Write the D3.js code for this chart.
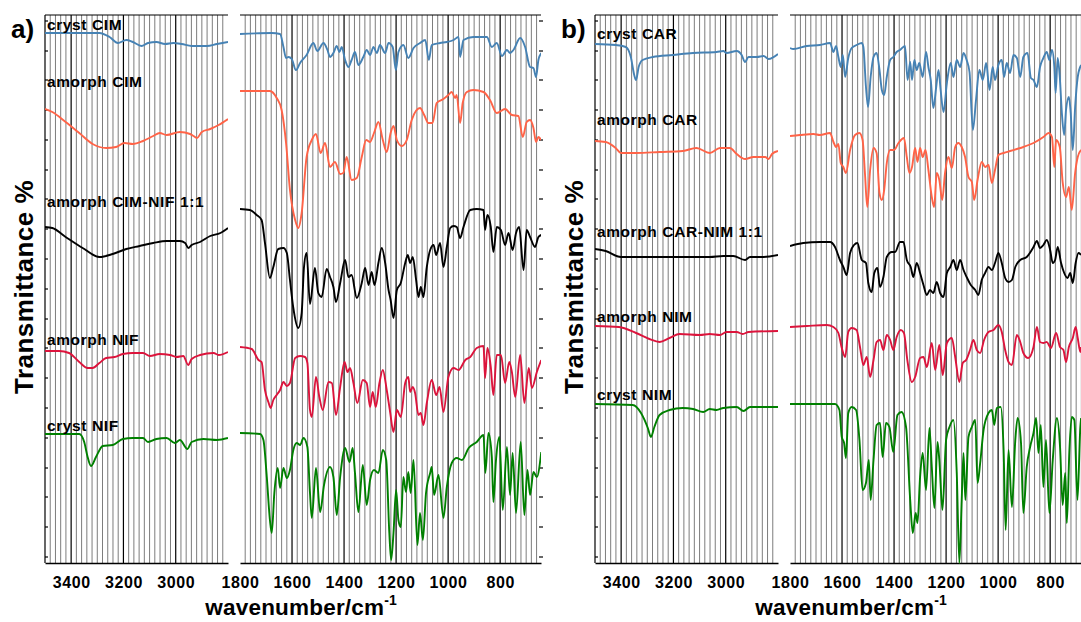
<!DOCTYPE html>
<html><head><meta charset="utf-8">
<script src="https://cdn.jsdelivr.net/npm/d3@7"></script>
<style>
body{margin:0;background:#fff}
svg{display:block}
text{font-family:"Liberation Sans",Arial,Helvetica,sans-serif;font-weight:bold;fill:#000}
</style>
</head><body>
<svg id="c" width="1081" height="622"></svg>
<script>
// ---------- tick labels / ticks ----------
const ticksHigh = [3400, 3200, 3000];
const ticksLow = [1800, 1600, 1400, 1200, 1000, 800];
const yTicks = [6,36,66,95,125,155,185,215,244,274,304,334,364,393,423,453,483,512,542];

// ---------- series names / colours ----------
const namesA = ["cryst CIM", "amorph CIM", "amorph CIM-NIF 1:1", "amorph NIF", "cryst NIF"];
const namesB = ["cryst CAR", "amorph CAR", "amorph CAR-NIM 1:1", "amorph NIM", "cryst NIM"];
const colors = ["#4682b4", "#ff6347", "#000000", "#dc143c", "#008000"];
const labelValsA = [533, 476, 356, 218, 132];
const labelValsB = [524, 438, 326, 241, 163];

// ---------- panel a, 3500-2800 ----------
const cimCrystL = [[3500,530],[3292,530],[3253,526],[3221,520],[3189,523],[3164,521],[3131,517],[3106,520],[3074,521],[3041,519],[3009,520],[2977,519],[2939,517],[2919,517],[2881,517],[2842,519],[2800,521]];
const cimAmL = [[3500,454],[3472,451],[3421,441],[3369,430],[3318,419],[3266,415],[3228,416],[3196,420],[3164,419],[3125,422],[3086,427],[3061,430],[3035,428],[2984,431],[2945,429],[2932,427],[2919,425],[2900,431],[2868,434],[2836,438],[2800,444]];
const mixAL = [[3500,336],[3472,335],[3421,326],[3356,315],[3292,306],[3241,309],[3189,314],[3138,317],[3086,320],[3035,322],[2984,322],[2964,320],[2952,315],[2939,318],[2907,321],[2868,327],[2829,330],[2800,335]];
const nifAmL = [[3500,212],[3446,212],[3408,210],[3369,201],[3337,195],[3318,195],[3292,200],[3266,205],[3234,206],[3202,209],[3164,210],[3125,210],[3099,207],[3061,209],[3022,208],[2997,206],[2971,207],[2952,198],[2939,204],[2907,208],[2855,210],[2836,208],[2800,211]];
const nifCrystL = [[3500,129],[3369,129],[3350,121],[3337,106],[3324,97],[3305,106],[3279,117],[3241,118],[3202,124],[3164,125],[3125,125],[3106,121],[3074,124],[3035,125],[3003,120],[2984,123],[2955,114],[2939,121],[2894,124],[2842,123],[2800,125]];

// ---------- panel a, 1800-643 ----------
const cimCrystR = [[1800,529],[1678,530],[1646,529],[1633,516],[1623,505],[1614,506],[1601,504],[1585,493],[1569,500],[1544,508],[1518,520],[1503,512],[1479,520],[1464,513],[1454,506],[1441,510],[1428,517],[1418,511],[1409,516],[1396,503],[1383,496],[1371,503],[1358,511],[1345,498],[1326,506],[1313,513],[1300,508],[1287,516],[1274,510],[1262,518],[1242,510],[1229,520],[1213,516],[1201,493],[1191,511],[1172,518],[1153,505],[1133,515],[1108,520],[1088,523],[1074,503],[1063,518],[1031,520],[1005,521],[979,523],[960,526],[954,506],[941,523],[903,526],[851,526],[832,516],[813,520],[793,507],[774,513],[762,510],[749,513],[723,525],[704,516],[685,496],[672,495],[662,486],[653,503],[642,510]];
const cimAmR = [[1800,472],[1685,472],[1659,465],[1640,453],[1623,420],[1608,373],[1588,343],[1576,335],[1563,350],[1544,406],[1524,423],[1508,429],[1490,410],[1473,420],[1454,396],[1435,401],[1415,389],[1403,390],[1390,406],[1371,383],[1351,385],[1332,406],[1315,423],[1300,421],[1285,430],[1268,441],[1251,423],[1236,411],[1221,430],[1210,437],[1197,423],[1178,417],[1159,423],[1140,443],[1108,455],[1092,448],[1076,440],[1060,440],[1044,460],[1018,464],[999,468],[986,471],[973,465],[967,468],[954,440],[944,460],[928,471],[903,473],[864,471],[839,463],[813,450],[781,454],[755,448],[730,447],[713,426],[698,441],[685,443],[672,435],[662,421],[653,426],[642,423]];
const mixAR = [[1800,354],[1762,353],[1736,348],[1717,343],[1704,320],[1685,285],[1672,296],[1653,314],[1633,315],[1620,310],[1608,283],[1595,255],[1576,235],[1563,250],[1554,296],[1544,310],[1531,259],[1512,295],[1499,270],[1486,266],[1467,294],[1454,286],[1441,276],[1431,261],[1415,280],[1396,303],[1383,286],[1371,288],[1351,265],[1332,280],[1319,295],[1306,278],[1294,291],[1283,278],[1268,300],[1255,315],[1242,300],[1229,273],[1221,263],[1210,245],[1197,273],[1182,280],[1165,300],[1155,308],[1146,300],[1136,306],[1123,283],[1114,266],[1105,276],[1095,266],[1082,296],[1069,313],[1056,318],[1046,308],[1031,320],[1018,296],[1005,316],[992,335],[979,337],[967,336],[954,325],[941,336],[915,353],[890,354],[864,353],[858,333],[849,348],[836,336],[826,311],[813,336],[797,333],[781,318],[768,330],[752,313],[739,330],[727,336],[710,293],[698,333],[685,326],[666,316],[653,326],[642,328]];
const nifAmR = [[1800,216],[1755,214],[1729,203],[1717,201],[1704,173],[1691,161],[1682,155],[1672,163],[1659,168],[1646,173],[1633,181],[1620,177],[1608,180],[1588,205],[1569,207],[1550,206],[1541,200],[1531,153],[1524,146],[1508,186],[1495,166],[1482,153],[1460,181],[1447,180],[1431,148],[1415,176],[1398,201],[1387,191],[1377,195],[1364,180],[1349,160],[1328,183],[1313,180],[1300,156],[1290,171],[1278,156],[1264,180],[1251,193],[1236,173],[1223,151],[1210,131],[1197,153],[1182,146],[1165,180],[1153,186],[1146,171],[1136,176],[1127,170],[1114,148],[1105,150],[1095,138],[1082,160],[1063,183],[1046,168],[1033,176],[1018,151],[999,186],[979,195],[960,193],[934,203],[915,206],[890,215],[864,217],[858,185],[849,215],[836,196],[826,168],[813,208],[797,208],[781,180],[765,201],[755,191],[742,166],[723,208],[707,160],[690,195],[678,175],[659,191],[642,203]];
const nifCrystR = [[1800,130],[1723,129],[1710,123],[1697,86],[1685,43],[1678,30],[1668,70],[1655,95],[1646,75],[1633,95],[1620,85],[1608,93],[1595,113],[1582,120],[1569,118],[1556,125],[1541,116],[1531,70],[1524,45],[1508,95],[1492,51],[1477,78],[1454,96],[1441,86],[1428,48],[1415,86],[1396,115],[1379,101],[1367,115],[1358,90],[1345,51],[1328,98],[1313,58],[1300,83],[1285,93],[1268,90],[1251,113],[1238,103],[1226,30],[1219,3],[1210,30],[1200,73],[1191,43],[1182,36],[1172,86],[1162,71],[1153,91],[1144,70],[1133,103],[1118,18],[1108,50],[1097,23],[1085,70],[1069,90],[1063,96],[1054,68],[1037,88],[1018,45],[1005,76],[986,100],[967,105],[947,103],[921,115],[890,121],[864,128],[857,90],[845,130],[832,106],[826,61],[816,103],[803,126],[790,53],[774,116],[762,68],[752,110],[739,50],[721,121],[707,48],[695,93],[685,68],[672,91],[659,86],[642,111]];

// ---------- panel b, 3500-2800 ----------
const carCrystL = [[3500,519],[3421,518],[3382,516],[3363,506],[3350,488],[3343,483],[3333,496],[3318,503],[3279,506],[3202,508],[3125,510],[3035,511],[3009,512],[2997,510],[2958,512],[2939,508],[2926,501],[2913,506],[2881,506],[2855,507],[2836,504],[2800,509]];
const carAmL = [[3500,422],[3459,421],[3421,415],[3401,410],[3343,410],[3253,411],[3164,412],[3112,415],[3061,410],[3022,415],[2984,415],[2958,409],[2926,404],[2894,406],[2849,406],[2836,404],[2823,409],[2800,412]];
const mixBL = [[3500,314],[3459,312],[3401,306],[3292,306],[3164,306],[3061,306],[3009,307],[2971,307],[2926,303],[2907,306],[2855,306],[2800,308]];
const nimAmL = [[3500,237],[3408,236],[3343,230],[3292,224],[3253,221],[3215,225],[3176,229],[3099,228],[3061,229],[3022,228],[2997,231],[2958,231],[2935,229],[2913,231],[2800,232]];
const nimCrystL = [[3500,159],[3356,158],[3324,150],[3298,135],[3286,126],[3273,136],[3253,148],[3215,153],[3164,155],[3125,154],[3086,151],[3061,154],[3035,153],[3009,155],[2958,156],[2932,152],[2907,156],[2800,156]];

// ---------- panel b, 1800-681 ----------
const carCrystR = [[1800,515],[1787,514],[1736,517],[1685,518],[1646,520],[1633,511],[1623,517],[1614,506],[1605,496],[1597,508],[1588,486],[1576,505],[1563,515],[1544,518],[1524,520],[1518,516],[1508,476],[1500,456],[1490,486],[1479,506],[1467,510],[1456,493],[1447,473],[1438,468],[1428,486],[1415,503],[1403,506],[1390,511],[1377,513],[1358,517],[1348,483],[1338,501],[1331,483],[1322,503],[1313,493],[1303,500],[1290,486],[1277,511],[1268,496],[1259,483],[1249,455],[1238,476],[1229,493],[1221,473],[1210,451],[1197,480],[1182,500],[1172,486],[1159,503],[1146,496],[1133,510],[1121,503],[1110,491],[1097,433],[1085,463],[1072,493],[1059,483],[1046,500],[1033,473],[1021,496],[1012,483],[999,498],[986,503],[977,486],[967,500],[954,490],[941,508],[928,505],[915,486],[903,506],[887,510],[874,485],[864,483],[851,476],[839,496],[826,505],[813,511],[803,503],[793,513],[784,496],[779,470],[771,505],[763,486],[755,450],[746,428],[739,453],[728,466],[721,450],[713,413],[704,456],[694,486],[681,498]];
const carAmR = [[1800,427],[1762,428],[1710,429],[1685,428],[1646,430],[1633,421],[1623,416],[1614,419],[1605,400],[1595,396],[1585,390],[1569,413],[1550,428],[1533,430],[1521,423],[1512,390],[1503,356],[1492,393],[1479,415],[1467,410],[1456,370],[1447,363],[1438,373],[1428,400],[1415,413],[1400,413],[1383,420],[1362,425],[1351,406],[1341,390],[1331,396],[1319,415],[1310,401],[1300,415],[1290,406],[1279,413],[1268,393],[1255,366],[1246,356],[1236,390],[1226,383],[1215,363],[1204,390],[1191,406],[1178,395],[1165,416],[1153,420],[1140,416],[1127,406],[1114,386],[1101,381],[1092,363],[1079,383],[1063,401],[1050,396],[1037,398],[1024,380],[1012,393],[999,408],[979,410],[954,412],[928,414],[903,416],[864,420],[826,426],[806,430],[793,426],[784,396],[777,423],[763,416],[752,381],[739,366],[728,376],[717,353],[704,390],[694,406],[681,413]];
const mixBR = [[1800,317],[1749,320],[1685,321],[1646,321],[1627,316],[1608,303],[1595,296],[1582,288],[1569,310],[1554,318],[1541,320],[1524,303],[1508,300],[1499,280],[1486,271],[1476,290],[1464,295],[1454,276],[1441,286],[1428,306],[1409,311],[1396,311],[1377,321],[1364,321],[1351,303],[1336,296],[1326,286],[1313,300],[1300,290],[1287,278],[1274,268],[1262,273],[1249,270],[1236,281],[1223,270],[1210,266],[1197,290],[1184,296],[1172,303],[1159,293],[1146,303],[1133,293],[1121,286],[1105,278],[1088,273],[1076,268],[1063,283],[1050,290],[1037,296],[1024,293],[1012,300],[999,310],[986,300],[973,285],[960,281],[947,283],[934,296],[915,303],[890,306],[864,316],[851,322],[839,315],[826,318],[813,323],[800,313],[790,300],[781,303],[771,316],[758,300],[746,290],[733,285],[723,290],[713,280],[702,300],[691,310],[681,308]];
const nimAmR = [[1800,236],[1736,237],[1659,238],[1633,236],[1614,230],[1601,215],[1588,206],[1576,231],[1563,235],[1544,233],[1531,216],[1518,198],[1505,206],[1492,186],[1479,203],[1467,221],[1454,223],[1441,213],[1428,228],[1415,223],[1403,213],[1390,226],[1374,233],[1362,230],[1349,203],[1332,181],[1319,186],[1300,205],[1287,206],[1274,196],[1255,220],[1242,193],[1226,218],[1213,188],[1197,220],[1178,225],[1165,206],[1149,181],[1136,200],[1123,203],[1108,213],[1095,223],[1082,213],[1069,210],[1054,223],[1037,231],[1018,233],[999,238],[986,231],[973,213],[960,201],[947,198],[928,228],[915,221],[903,210],[884,205],[864,216],[851,236],[839,221],[826,220],[813,221],[797,215],[777,230],[762,216],[749,213],[739,201],[728,216],[713,225],[702,236],[694,225],[684,211],[681,216]];
const nimCrystR = [[1800,159],[1710,159],[1627,159],[1610,153],[1601,126],[1592,120],[1585,105],[1576,150],[1563,156],[1546,153],[1533,123],[1521,73],[1508,80],[1497,103],[1490,63],[1479,103],[1467,138],[1454,140],[1444,106],[1431,140],[1418,136],[1403,111],[1387,148],[1371,151],[1354,136],[1338,63],[1328,30],[1317,50],[1310,40],[1300,86],[1290,110],[1277,73],[1264,135],[1255,96],[1245,55],[1233,121],[1226,103],[1214,53],[1200,123],[1187,136],[1172,143],[1159,90],[1149,0],[1140,63],[1133,110],[1126,63],[1114,126],[1101,136],[1088,143],[1079,80],[1069,100],[1056,133],[1037,150],[1024,153],[1015,138],[1005,155],[990,156],[979,113],[971,33],[960,113],[947,56],[934,123],[925,145],[912,120],[903,50],[890,96],[877,116],[864,130],[854,145],[845,110],[836,138],[826,76],[816,123],[803,50],[790,103],[774,145],[762,116],[752,58],[742,90],[736,40],[726,113],[717,146],[707,143],[695,63],[684,136],[681,145]];

const seriesAL = [cimCrystL, cimAmL, mixAL, nifAmL, nifCrystL];
const seriesAR = [cimCrystR, cimAmR, mixAR, nifAmR, nifCrystR];
const seriesBL = [carCrystL, carAmL, mixBL, nimAmL, nimCrystL];
const seriesBR = [carCrystR, carAmR, mixBR, nimAmR, nimCrystR];

// ---------- drawing ----------
const svg = d3.select("#c");
const yTop = 15, yBot = 563;
const y = d3.scaleLinear().domain([0, 548]).range([yBot, yTop]);
let clipId = 0;

function drawPanel(x0, x1, domain, gridStart, gridEnd, tickVals, opts, series) {
  const x = d3.scaleLinear().domain(domain).range([x0, x1]);
  const g = svg.append("g");
  const grid = d3.range(gridStart, gridEnd, -20);
  g.selectAll("line.grid").data(grid).join("line")
    .attr("x1", d => x(d)).attr("x2", d => x(d))
    .attr("y1", yTop).attr("y2", yBot)
    .attr("stroke", d => d % 200 === 0 ? "#000" : "#6e6e6e")
    .attr("stroke-width", d => d % 200 === 0 ? 1.2 : 0.9);
  g.append("line").attr("x1", x0).attr("x2", x1).attr("y1", yTop).attr("y2", yTop)
    .attr("stroke", "#000").attr("stroke-width", 1.2);
  if (opts.leftAxis) {
    g.append("line").attr("x1", x0).attr("x2", x0).attr("y1", yTop).attr("y2", yBot)
      .attr("stroke", "#000").attr("stroke-width", 1.2);
    g.selectAll("line.yt").data(yTicks).join("line")
      .attr("x1", x0).attr("x2", x0 + 3).attr("y1", d => y(d)).attr("y2", d => y(d))
      .attr("stroke", "#000").attr("stroke-width", 1.2);
  }
  if (opts.rightTicks) {
    g.selectAll("line.yt2").data(yTicks).join("line")
      .attr("x1", x1 - 2).attr("x2", x1 + 2).attr("y1", d => y(d)).attr("y2", d => y(d))
      .attr("stroke", "#000").attr("stroke-width", 1.2);
  }
  const ax = d3.axisBottom(x).tickValues(tickVals).tickSize(0).tickPadding(14).tickFormat(d3.format("d"));
  const axg = g.append("g").attr("transform", `translate(0,${yBot})`).call(ax);
  axg.select(".domain").attr("stroke", "#000").attr("stroke-width", 1.5);
  axg.selectAll("text").attr("font-size", 16).attr("font-family", "Liberation Sans, Arial, sans-serif")
    .attr("font-weight", "bold").attr("fill", "#000").attr("letter-spacing", 0.6);
  const id = "clip" + (clipId++);
  svg.append("clipPath").attr("id", id).append("rect")
    .attr("x", x0).attr("y", yTop - 10).attr("width", x1 - x0).attr("height", yBot - yTop + 12);
  const line = d3.line().x(d => x(d[0])).y(d => y(d[1])).curve(d3.curveMonotoneX);
  const lg = g.append("g").attr("clip-path", `url(#${id})`);
  series.forEach((s, i) => {
    lg.append("path").attr("d", line(s)).attr("fill", "none")
      .attr("stroke", colors[i]).attr("stroke-width", 1.9).attr("stroke-linejoin", "round");
  });
  return x;
}

function drawGroup(off, seriesL, seriesR, names, labelVals, letter) {
  drawPanel(45 + off, 228 + off, [3500, 2800], 3480, 2810, ticksHigh, {leftAxis: true}, seriesL);
  drawPanel(240 + off, 541 + off, [1800, 643], 1780, 650, ticksLow, {rightTicks: true}, seriesR);
  svg.append("g").selectAll("text").data(names).join("text")
    .attr("x", 47 + off).attr("y", (d, i) => y(labelVals[i]))
    .attr("font-size", 15.5).attr("letter-spacing", 0.6).text(d => d);
  svg.append("text").attr("x", 11 + off).attr("y", 38).attr("font-size", 26).text(letter);
  svg.append("text").attr("transform", `translate(${33 + off},${287}) rotate(-90)`)
    .attr("text-anchor", "middle").attr("font-size", 26).attr("letter-spacing", 0.5).text("Transmittance %");
  const t = svg.append("text").attr("x", 301 + off).attr("y", 615).attr("text-anchor", "middle")
    .attr("font-size", 22.5).attr("letter-spacing", 0.2);
  t.append("tspan").text("wavenumber/cm");
  t.append("tspan").attr("dy", -10).attr("font-size", 14).attr("letter-spacing", 0).text("-1");
}

drawGroup(0, seriesAL, seriesAR, namesA, labelValsA, "a)");
drawGroup(550, seriesBL, seriesBR, namesB, labelValsB, "b)");
</script>
</body></html>
